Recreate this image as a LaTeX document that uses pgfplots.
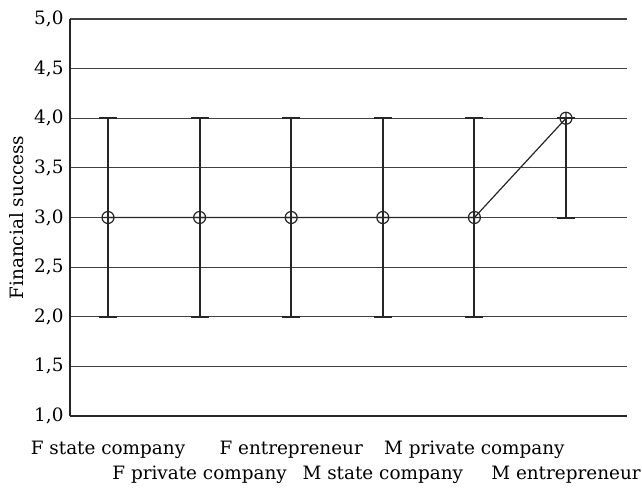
\documentclass[border=0pt]{standalone}
\usepackage{pgfplots}
\pgfplotsset{compat=1.18}
\usepackage{fontspec}
\setmainfont{DejaVu Serif}

% mean and range of financial success per group
% columns: position, mean, plus, minus
\pgfplotstableread{
x y ep em
0 3 1 1
1 3 1 1
2 3 1 1
3 3 1 1
4 3 1 1
5 4 0 1
}\successdata

\begin{document}
\fontsize{9.2}{11.2}\selectfont
\begin{tikzpicture}
\begin{axis}[
  scale only axis,
  width=278.5pt, height=198.5pt,
  xmin=-0.415, xmax=5.666,
  ymin=1, ymax=5,
  ytick={1,1.5,...,5},
  xtick={0,...,5},
  xticklabels={
    F state company,
    \mbox{}\\[8pt]F private company,
    F entrepreneur,
    \mbox{}\\[8pt]M state company,
    M private company,
    \mbox{}\\[8pt]M entrepreneur},
  xticklabel style={align=center, yshift=-9.2pt},
  yticklabel style={
    /pgf/number format/.cd, fixed, fixed zerofill, precision=1,
    use comma, assume math mode=true},
  major tick length=0pt,
  ymajorgrids,
  grid style={line width=0.6pt, color=black!75},
  axis x line*=bottom, axis y line*=left,
  x axis line style={-, line width=0.8pt, black!85},
  y axis line style={-, line width=0.8pt, black!85},
  ylabel={Financial success},
  ylabel style={at={(axis description cs:-0.095,0.5)}, anchor=center},
  clip=false,
]
% error bars
\addplot[draw=none, mark=none,
  error bars/.cd, y dir=both, y explicit,
  error bar style={line width=1pt, black!85},
  error mark options={line width=1pt, black!85, mark size=4.5pt, rotate=90}]
  table[x=x, y=y, y error plus=ep, y error minus=em] {\successdata};
% connecting line of the means
\addplot[line width=0.6pt, black!85, mark=none] table[x=x, y=y] {\successdata};
% means
\addplot[only marks, mark=oplus, mark size=3pt,
  mark options={line width=0.6pt, black!85}] table[x=x, y=y] {\successdata};
\coordinate (O) at (rel axis cs:0,0);
\end{axis}
\pgfresetboundingbox
\path (O) ++(-35pt,-36pt) rectangle ++(321pt,244pt);
\end{tikzpicture}
\end{document}
